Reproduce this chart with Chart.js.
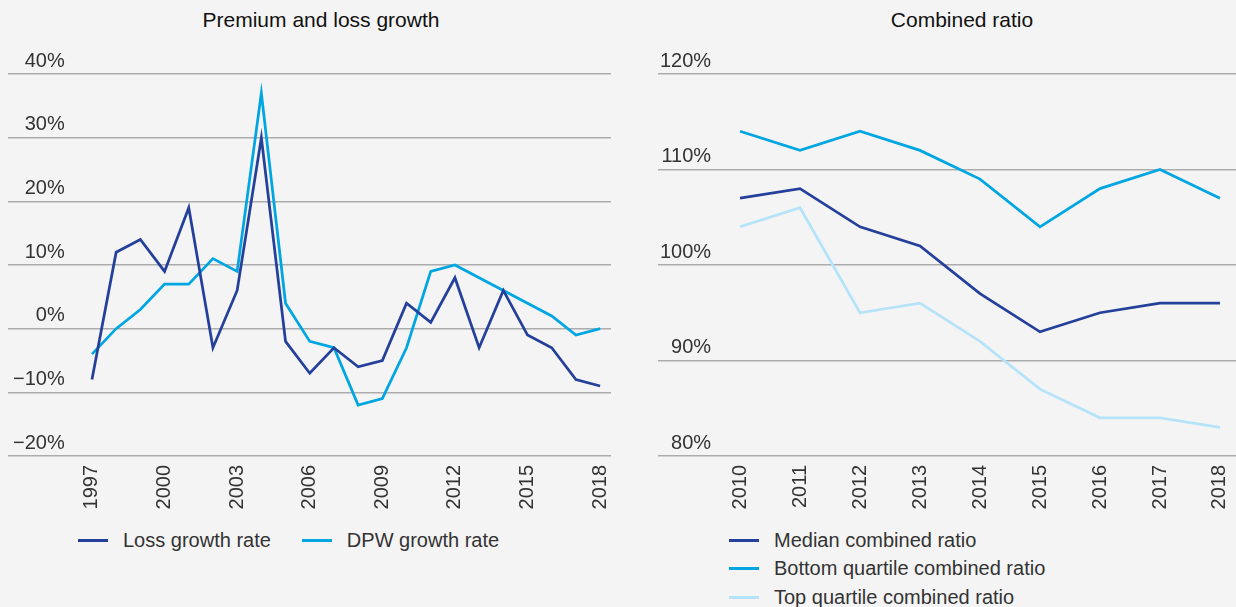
<!DOCTYPE html>
<html>
<head>
<meta charset="utf-8">
<title>Premium and loss growth / Combined ratio</title>
<script src="https://cdn.jsdelivr.net/npm/chart.js@4.4.1/dist/chart.umd.min.js"></script>
<style>
  body {
    margin: 0;
    width: 1236px;
    height: 607px;
    overflow: hidden;
    position: relative;
    background: #f4f4f4;
    font-family: 'Liberation Sans', Arial, sans-serif;
    color: #333;
  }
  .title {
    position: absolute;
    top: 8px;
    font-size: 21px;
    line-height: 24px;
    color: #111;
    transform: translateX(-50%);
    white-space: nowrap;
  }
  canvas { position: absolute; }
  .legend {
    position: absolute;
    font-size: 20px;
    color: #333;
    display: flex;
  }
  .legend .item {
    display: flex;
    align-items: center;
    white-space: nowrap;
    height: 24px;
  }
  .legend .swatch {
    width: 30px;
    height: 3px;
    margin-right: 15px;
  }
  #growth-legend { left: 78px; top: 528px; flex-direction: row; gap: 31px; }
  #ratio-legend { left: 729px; top: 528px; flex-direction: column; gap: 4.5px; }
</style>
</head>
<body>

<div class="title" style="left:321px">Premium and loss growth</div>
<div class="title" style="left:962px">Combined ratio</div>

<canvas id="growth-chart" width="620" height="480" style="left:0;top:40px"></canvas>
<canvas id="ratio-chart" width="596" height="480" style="left:640px;top:40px"></canvas>

<div class="legend" id="growth-legend"></div>
<div class="legend" id="ratio-legend"></div>

<script>
// Premium and loss growth, yearly %
const growthYears = [1997, 1998, 1999, 2000, 2001, 2002, 2003, 2004, 2005, 2006, 2007,
                     2008, 2009, 2010, 2011, 2012, 2013, 2014, 2015, 2016, 2017, 2018];
const growthTickYears = [1997, 2000, 2003, 2006, 2009, 2012, 2015, 2018];
const lossGrowth = [-8, 12, 14, 9, 19, -3, 6, 30, -2, -7, -3,
                    -6, -5, 4, 1, 8, -3, 6, -1, -3, -8, -9];
const dpwGrowth = [-4, 0, 3, 7, 7, 11, 9, 37, 4, -2, -3,
                   -12, -11, -3, 9, 10, 8, 6, 4, 2, -1, 0];

// Combined ratio, %
const ratioYears = [2010, 2011, 2012, 2013, 2014, 2015, 2016, 2017, 2018];
const medianRatio = [107, 108, 104, 102, 97, 93, 95, 96, 96];
const bottomQuartileRatio = [114, 112, 114, 112, 109, 104, 108, 110, 107];
const topQuartileRatio = [104, 106, 95, 96, 92, 87, 84, 84, 83];

const DARK_BLUE = '#24409a';
const CYAN = '#00a6e2';
const PALE_BLUE = '#b5e3f9';
const FONT = "'Liberation Sans', Arial, sans-serif";

function toPoints(years, values) {
    return years.map((yr, i) => ({ x: yr, y: values[i] }));
}

function percentLabel(v) {
    return (v < 0 ? '\u2212' : '') + Math.abs(v) + '%';
}

function lineDataset(label, years, values, color) {
    return {
        label: label,
        data: toPoints(years, values),
        borderColor: color,
        backgroundColor: color,
        borderWidth: 2.75,
        pointRadius: 0,
        tension: 0
    };
}

function buildChart(canvasId, datasets, xRange, tickYears, yRange, padding, yLabelPad) {
    const ctx = document.getElementById(canvasId).getContext('2d');
    return new Chart(ctx, {
        type: 'line',
        data: { datasets: datasets },
        options: {
            responsive: false,
            animation: false,
            devicePixelRatio: 1,
            layout: { padding: padding },
            plugins: {
                legend: { display: false },
                tooltip: { enabled: false }
            },
            scales: {
                x: {
                    type: 'linear',
                    min: xRange[0],
                    max: xRange[1],
                    afterBuildTicks: scale => {
                        scale.ticks = tickYears.map(v => ({ value: v }));
                    },
                    // rotated year labels sit inside the plot width, no side padding needed
                    afterFit: scale => {
                        scale.height = 64;
                        scale.paddingLeft = 0;
                        scale.paddingRight = 0;
                    },
                    grid: { display: false, drawTicks: false },
                    border: { display: false },
                    ticks: {
                        minRotation: 90,
                        maxRotation: 90,
                        padding: 9,
                        color: '#333',
                        font: { family: FONT, size: 20 },
                        callback: v => String(v)
                    }
                },
                y: {
                    min: yRange[0],
                    max: yRange[1],
                    afterFit: scale => { scale.width = 0; },
                    grid: { color: '#acacac', lineWidth: 1.5, drawTicks: false },
                    border: { display: false },
                    ticks: {
                        stepSize: 10,
                        mirror: true,
                        crossAlign: 'far',
                        padding: yLabelPad,
                        labelOffset: -13,
                        color: '#333',
                        font: { family: FONT, size: 20 },
                        callback: percentLabel
                    }
                }
            }
        }
    });
}

function renderLegend(containerId, datasets) {
    document.getElementById(containerId).innerHTML = datasets.map(ds => `
        <div class="item">
            <span class="swatch" style="background:${ds.borderColor}"></span>
            <span>${ds.label}</span>
        </div>
    `).join('');
}

function init() {
    const growthSets = [
        lineDataset('Loss growth rate', growthYears, lossGrowth, DARK_BLUE),
        lineDataset('DPW growth rate', growthYears, dpwGrowth, CYAN)
    ];
    const ratioSets = [
        lineDataset('Median combined ratio', ratioYears, medianRatio, DARK_BLUE),
        lineDataset('Bottom quartile combined ratio', ratioYears, bottomQuartileRatio, CYAN),
        lineDataset('Top quartile combined ratio', ratioYears, topQuartileRatio, PALE_BLUE)
    ];

    buildChart('growth-chart', growthSets, [1993.53, 2018.45], growthTickYears,
        [-20, 40], { left: 8, right: 9, top: 34, bottom: 0 }, 5);
    buildChart('ratio-chart', ratioSets, [2008.633, 2018.267], ratioYears,
        [80, 120], { left: 18, right: 0, top: 34, bottom: 0 }, 2);

    renderLegend('growth-legend', growthSets);
    renderLegend('ratio-legend', ratioSets);
}

document.addEventListener('DOMContentLoaded', init);
</script>
</body>
</html>
